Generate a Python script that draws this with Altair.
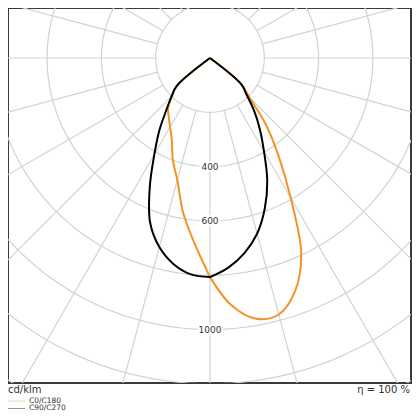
import numpy as np
import pandas as pd
import altair as alt

# ---- data (cd/klm, gamma in degrees from nadir) ----
gammas = [0, 5, 10, 15, 20, 25, 30, 35, 40, 45, 50, 55]
c0 = [807, 915, 975, 978, 915, 795, 594, 440, 320, 205, 152, 0]      # right half, orange
c180 = [807, 680, 575, 465, 400, 333, 294, 265, 240, 198, 158, 0]    # left half, orange
c90 = [807, 775, 730, 670, 590, 499, 398, 320, 252, 190, 150, 0]     # right half, black
c270 = [807, 800, 771, 721, 645, 525, 410, 325, 250, 200, 160, 0]    # left half, black

series_names = ["C0/C180", "C90/C270"]
series_colors = ["#f39325", "#000000"]
ring_values = [200, 400, 600, 800, 1000, 1200, 1400, 1600]
ring_labels = [400, 600, 1000]
spoke_angles = list(range(0, 360, 15))

# ---- geometry of the frame ----
K = 0.2715           # px per cd/klm
W, H = 403, 375
CX, CY = 202, 50     # centre in chart pixels
x_dom = [-CX / K, (W - CX) / K]
y_dom = [-(H - CY) / K, CY / K]

xs = alt.Scale(domain=x_dom, nice=False, zero=False)
ys = alt.Scale(domain=y_dom, nice=False, zero=False)

# curves
rows = []
for name, left, right in [(series_names[0], c180, c0), (series_names[1], c270, c90)]:
    o = 0
    for g, r in reversed(list(zip(gammas, left))):
        t = np.radians(g)
        rows.append(dict(s=name, o=o, x=-r * np.sin(t), y=-r * np.cos(t)))
        o += 1
    for g, r in zip(gammas, right):
        t = np.radians(g)
        rows.append(dict(s=name, o=o, x=r * np.sin(t), y=-r * np.cos(t)))
        o += 1
curves = pd.DataFrame(rows)

# rings
rr = []
for R in ring_values:
    for i, a in enumerate(range(0, 361, 2)):
        t = np.radians(a)
        rr.append(dict(R=R, o=i, x=R * np.sin(t), y=R * np.cos(t)))
rings = pd.DataFrame(rr)

# spokes
sp = []
for a in spoke_angles:
    t = np.radians(a)
    sp.append(dict(x=200 * np.sin(t), y=200 * np.cos(t),
                   x2=1700 * np.sin(t), y2=1700 * np.cos(t)))
spokes = pd.DataFrame(sp)

grid_col = "#d2d2d2"

ring_layer = alt.Chart(rings).mark_line(color=grid_col, strokeWidth=1.2, clip=True).encode(
    x=alt.X("x:Q", scale=xs, axis=None),
    y=alt.Y("y:Q", scale=ys, axis=None),
    detail="R:N", order="o:Q")

spoke_layer = alt.Chart(spokes).mark_rule(color=grid_col, strokeWidth=1.2, clip=True).encode(
    x=alt.X("x:Q", scale=xs, axis=None), y=alt.Y("y:Q", scale=ys, axis=None),
    x2="x2:Q", y2="y2:Q")

curve_layer = alt.Chart(curves).mark_line(strokeWidth=2, interpolate="catmull-rom", clip=True).encode(
    x=alt.X("x:Q", scale=xs, axis=None),
    y=alt.Y("y:Q", scale=ys, axis=None),
    color=alt.Color("s:N", scale=alt.Scale(domain=series_names, range=series_colors), legend=None),
    detail="s:N", order="o:Q")

lab = pd.DataFrame({"v": ring_labels, "x": [0] * len(ring_labels)})
lab["y"] = -lab["v"]
lab_halo = alt.Chart(lab).mark_text(fontSize=9, font="DejaVu Sans", stroke="white", strokeWidth=4,
                                   color="white").encode(
    x=alt.X("x:Q", scale=xs, axis=None), y=alt.Y("y:Q", scale=ys, axis=None), text="v:Q")
lab_text = alt.Chart(lab).mark_text(fontSize=9, font="DejaVu Sans", color="#333333").encode(
    x=alt.X("x:Q", scale=xs, axis=None), y=alt.Y("y:Q", scale=ys, axis=None), text="v:Q")

unit_txt = alt.Chart(pd.DataFrame({"t": ["cd/klm"]})).mark_text(
    fontSize=10, font="DejaVu Sans", color="#333333", align="left", baseline="middle").encode(
    x=alt.value(0), y=alt.value(382), text="t:N")
eta_txt = alt.Chart(pd.DataFrame({"t": ["η = 100 %"]})).mark_text(
    fontSize=10, font="DejaVu Sans", color="#333333", align="right", baseline="middle").encode(
    x=alt.value(402), y=alt.value(382), text="t:N")

leg = pd.DataFrame({"s": series_names, "yy": [393, 400.5], "yt": [392.5, 400]})
leg_lines = alt.Chart(leg).mark_rule(strokeWidth=0.8).encode(
    x=alt.value(0), x2=alt.value(17), y=alt.Y("yy:Q", scale=None),
    color=alt.Color("s:N", scale=alt.Scale(domain=series_names, range=["#f6c9a0", "#777777"]), legend=None))
leg_text = alt.Chart(leg).mark_text(fontSize=7.5, font="DejaVu Sans", color="#333333",
                                    align="left", baseline="middle").encode(
    x=alt.value(21), y=alt.Y("yt:Q", scale=None), text="s:N")

chart = alt.layer(ring_layer, spoke_layer, curve_layer, lab_halo, lab_text,
                  unit_txt, eta_txt, leg_lines, leg_text).resolve_scale(
    color="independent").properties(
    width=W, height=H,
    autosize=alt.AutoSizeParams(type="none"),
    padding={"left": 0, "top": 0, "right": 1, "bottom": 29},
).configure_view(stroke="#3a3a3a", strokeWidth=2)

chart.save("out.html", embed_options={"renderer": "svg", "actions": False})
